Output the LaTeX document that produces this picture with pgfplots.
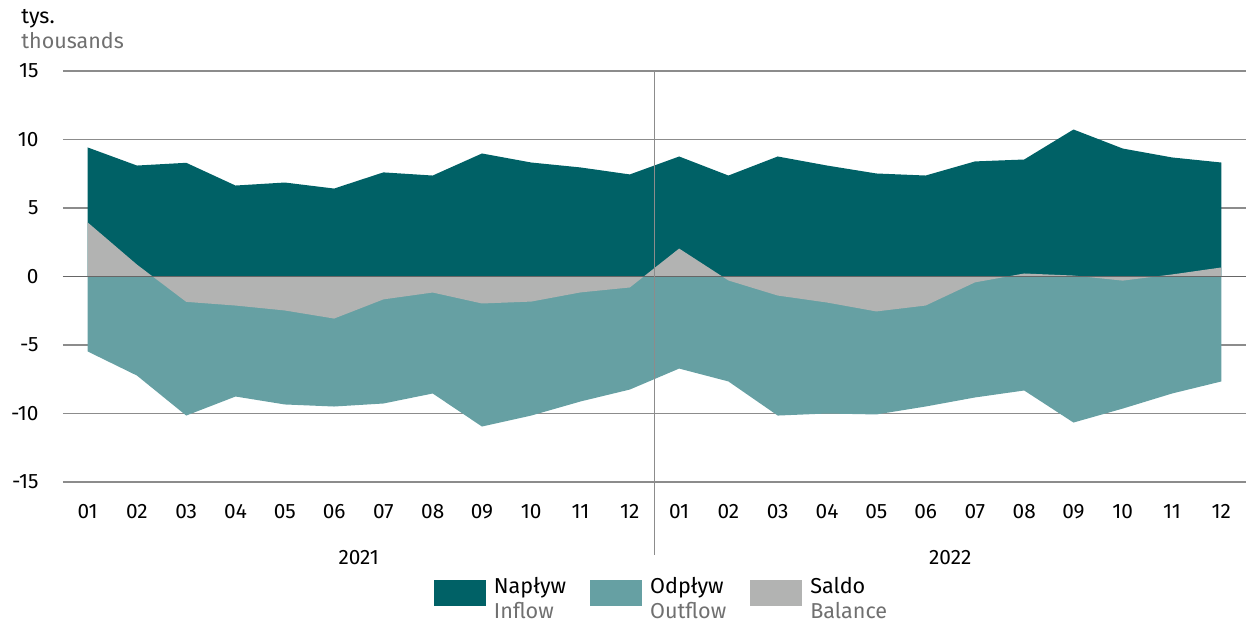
\documentclass[border=0pt]{standalone}
\usepackage{pgfplots}
\pgfplotsset{compat=1.18}
\usepackage{fontspec}
\setmainfont{Fira Sans}
\definecolor{inflowc}{HTML}{006166}
\definecolor{outflowc}{HTML}{66A0A3}
\definecolor{balc}{HTML}{B2B3B2}
\definecolor{subgray}{HTML}{707070}
\definecolor{gridc}{HTML}{8C8C8C}
\definecolor{zeroc}{HTML}{666666}
\begin{document}
\begin{tikzpicture}
\begin{axis}[
  scale only axis,
  width=591.5pt, height=205.5pt,
  xmin=-0.5, xmax=23.5, ymin=-15, ymax=15,
  ytick={-15,-10,...,15},
  xtick={0,...,23},
  xticklabels={01,02,03,04,05,06,07,08,09,10,11,12,01,02,03,04,05,06,07,08,09,10,11,12},
  axis line style={draw=none},
  tick style={draw=none},
  ymajorgrids,
  grid style={gridc, line width=0.6pt},
  /pgf/number format/assume math mode=true,
  yticklabel style={font=\fontsize{10.4}{12}\selectfont, anchor=east, inner sep=0pt, xshift=-12pt},
  xticklabel style={font=\fontsize{10.4}{12}\selectfont, anchor=north, inner sep=0pt, yshift=-11pt},
  clip=false,
  legend columns=3,
  legend cell align=left,
  legend style={draw=none, fill=none, inner sep=0pt, outer sep=0pt,
    at={(rel axis cs:0.3136,0)}, anchor=north west, yshift=-47pt,
    font=\fontsize{10.8}{12.5}\selectfont,
    nodes={inner ysep=0pt},
    /tikz/every odd column/.append style={column sep=2pt},
    /tikz/every even column/.append style={column sep=10pt}},
]
\addplot[fill=inflowc, draw=none, area legend,
  legend image code/.code={\fill[inflowc] (0pt,-6.5pt) rectangle (26pt,6.5pt);}]
 coordinates {
 (0,9.42) (1,8.1) (2,8.3) (3,6.64) (4,6.86) (5,6.42) (6,7.6) (7,7.37) (8,8.98) (9,8.32) (10,7.96) (11,7.45)
 (12,8.76) (13,7.37) (14,8.76) (15,8.1) (16,7.52) (17,7.37) (18,8.4) (19,8.54) (20,10.73) (21,9.34) (22,8.69) (23,8.32)
 } \closedcycle;
\addlegendentry{\begin{tabular}{@{}l@{}}Napływ\\\textcolor{subgray}{Inflow}\end{tabular}}
\addplot[fill=outflowc, draw=none, area legend,
  legend image code/.code={\fill[outflowc] (0pt,-6.5pt) rectangle (26pt,6.5pt);}]
 coordinates {
 (0,-5.47) (1,-7.23) (2,-10.15) (3,-8.76) (4,-9.34) (5,-9.49) (6,-9.27) (7,-8.54) (8,-10.95) (9,-10.15) (10,-9.12) (11,-8.25)
 (12,-6.72) (13,-7.66) (14,-10.15) (15,-10.0) (16,-10.07) (17,-9.49) (18,-8.83) (19,-8.32) (20,-10.66) (21,-9.64) (22,-8.54) (23,-7.66)
 } \closedcycle;
\addlegendentry{\begin{tabular}{@{}l@{}}Odpływ\\\textcolor{subgray}{Outflow}\end{tabular}}
\addplot[fill=balc, draw=none, area legend,
  legend image code/.code={\fill[balc] (0pt,-6.5pt) rectangle (26pt,6.5pt);}]
 coordinates {
 (0,3.95) (1,0.87) (2,-1.85) (3,-2.12) (4,-2.48) (5,-3.07) (6,-1.67) (7,-1.17) (8,-1.97) (9,-1.83) (10,-1.16) (11,-0.8)
 (12,2.04) (13,-0.29) (14,-1.39) (15,-1.9) (16,-2.55) (17,-2.12) (18,-0.43) (19,0.22) (20,0.07) (21,-0.3) (22,0.15) (23,0.66)
 } \closedcycle;
\addlegendentry{\begin{tabular}{@{}l@{}}Saldo\\\textcolor{subgray}{Balance}\end{tabular}}
\draw[zeroc, line width=0.6pt] (axis cs:-0.5,0) -- (axis cs:23.5,0);
\draw[gridc, line width=0.6pt] (axis cs:11.5,15) -- ([yshift=-36.5pt]axis cs:11.5,-15);
\node[font=\fontsize{10.4}{12}\selectfont, anchor=base] at ([yshift=-41pt]axis cs:5.5,-15) {2021};
\node[font=\fontsize{10.4}{12}\selectfont, anchor=base] at ([yshift=-41pt]axis cs:17.5,-15) {2022};
\node[font=\fontsize{10.75}{12}\selectfont, anchor=base west, inner sep=0pt] at ([xshift=-21pt,yshift=24pt]rel axis cs:0,1) {tys.};
\node[font=\fontsize{10.75}{12}\selectfont, anchor=base west, inner sep=0pt, text=subgray] at ([xshift=-21pt,yshift=11.5pt]rel axis cs:0,1) {thousands};
\end{axis}
\pgfresetboundingbox
\path (current axis.south west) ++(-31.5pt,-70pt) coordinate (bbsw);
\path (current axis.north east) ++(1pt,35.5pt) coordinate (bbne);
\path[use as bounding box] (bbsw) rectangle (bbne);
\end{tikzpicture}
\end{document}
